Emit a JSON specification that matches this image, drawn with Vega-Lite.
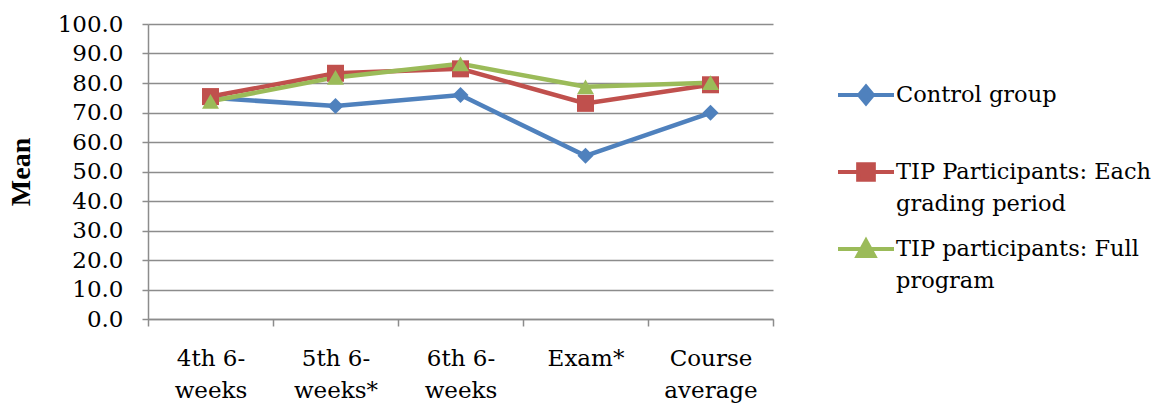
{
  "$schema": "https://vega.github.io/schema/vega-lite/v6.json",
  "autosize": {"type": "none"},
  "width": 625,
  "height": 295,
  "padding": {"left": 148, "top": 24, "right": 388, "bottom": 88},
  "background": "white",
  "config": {
    "view": {"stroke": null}
  },
  "data": {
    "values": [
      {"period": "4th 6-weeks", "group": "Control group", "mean": 75.0},
      {"period": "5th 6-weeks*", "group": "Control group", "mean": 72.2},
      {"period": "6th 6-weeks", "group": "Control group", "mean": 75.9},
      {"period": "Exam*", "group": "Control group", "mean": 55.3},
      {"period": "Course average", "group": "Control group", "mean": 69.9},
      {"period": "4th 6-weeks", "group": "TIP Participants: Each grading period", "mean": 75.4},
      {"period": "5th 6-weeks*", "group": "TIP Participants: Each grading period", "mean": 83.3},
      {"period": "6th 6-weeks", "group": "TIP Participants: Each grading period", "mean": 84.8},
      {"period": "Exam*", "group": "TIP Participants: Each grading period", "mean": 73.1},
      {"period": "Course average", "group": "TIP Participants: Each grading period", "mean": 79.4},
      {"period": "4th 6-weeks", "group": "TIP participants: Full program", "mean": 73.8},
      {"period": "5th 6-weeks*", "group": "TIP participants: Full program", "mean": 81.9},
      {"period": "6th 6-weeks", "group": "TIP participants: Full program", "mean": 86.5},
      {"period": "Exam*", "group": "TIP participants: Full program", "mean": 78.7},
      {"period": "Course average", "group": "TIP participants: Full program", "mean": 80.1}
    ]
  },
  "encoding": {
    "x": {
      "field": "period",
      "type": "nominal",
      "sort": ["4th 6-weeks", "5th 6-weeks*", "6th 6-weeks", "Exam*", "Course average"],
      "scale": {"type": "band", "paddingInner": 0, "paddingOuter": 0},
      "bandPosition": 0.5,
      "axis": {
        "title": null,
        "labelAngle": 0,
        "labelFont": "DejaVu Serif",
        "labelFontSize": 23,
        "labelColor": "black",
        "labelLineHeight": 32,
        "labelPadding": 21,
        "labelBaseline": "top",
        "labelExpr": "datum.value == '4th 6-weeks' ? ['4th 6-', 'weeks'] : datum.value == '5th 6-weeks*' ? ['5th 6-', 'weeks*'] : datum.value == '6th 6-weeks' ? ['6th 6-', 'weeks'] : datum.value == 'Course average' ? ['Course', 'average'] : datum.value",
        "tickBand": "extent",
        "tickSize": 7,
        "tickColor": "#8c8c8c",
        "tickWidth": 1.5,
        "domainColor": "#8c8c8c",
        "domainWidth": 1.5,
        "grid": false
      }
    },
    "y": {
      "field": "mean",
      "type": "quantitative",
      "scale": {"domain": [0, 100], "nice": false},
      "axis": {
        "title": "Mean",
        "titleFont": "Liberation Serif",
        "titleFontSize": 28,
        "titleFontWeight": "bold",
        "titleColor": "black",
        "titlePadding": 22,
        "values": [0, 10, 20, 30, 40, 50, 60, 70, 80, 90, 100],
        "format": ".1f",
        "labelFont": "DejaVu Serif",
        "labelFontSize": 23,
        "labelColor": "black",
        "labelPadding": 19,
        "tickSize": 6,
        "tickColor": "#8c8c8c",
        "tickWidth": 1.5,
        "domainColor": "#8c8c8c",
        "domainWidth": 1.5,
        "grid": true,
        "gridColor": "#8c8c8c",
        "gridWidth": 1.5
      }
    },
    "color": {
      "field": "group",
      "type": "nominal",
      "scale": {
        "domain": ["Control group", "TIP Participants: Each grading period", "TIP participants: Full program"],
        "range": ["#4F81BD", "#C0504D", "#9BBB59"]
      },
      "legend": {
        "title": null,
        "orient": "none",
        "legendX": 688,
        "legendY": 41,
        "symbolSize": 3136,
        "symbolStrokeWidth": 4,
        "labelFont": "DejaVu Serif",
        "labelFontSize": 22.5,
        "labelColor": "black",
        "labelOffset": 0,
        "labelLimit": 400,
        "rowPadding": 3,
        "labelExpr": "datum.value == 'TIP Participants: Each grading period' ? ['TIP Participants: Each', 'grading period'] : datum.value == 'TIP participants: Full program' ? ['TIP participants: Full', 'program'] : ['Control group', ' ']",
        "encode": {
          "symbols": {
            "update": {
              "shape": {"signal": "datum.value == 'Control group' ? 'M-1,0L1,0M0,-0.3L0.25,0L0,0.3L-0.25,0Z' : datum.value == 'TIP Participants: Each grading period' ? 'M-1,0L1,0M-0.28,-0.28L0.28,-0.28L0.28,0.28L-0.28,0.28Z' : 'M-1,0L1,0M0,-0.3L0.3,0.25L-0.3,0.25Z'"},
              "fill": {"scale": "color", "field": "value"},
              "stroke": {"scale": "color", "field": "value"},
              "strokeWidth": {"value": 4}
            }
          },
          "labels": {
            "update": {
              "lineHeight": {"value": 32}
            }
          }
        }
      }
    }
  },
  "layer": [
    {
      "mark": {"type": "line", "strokeWidth": 4.5}
    },
    {
      "transform": [{"filter": "datum.group == 'Control group'"}],
      "mark": {"type": "point", "filled": true, "opacity": 1, "size": 256, "shape": "diamond"}
    },
    {
      "transform": [{"filter": "datum.group == 'TIP Participants: Each grading period'"}],
      "mark": {"type": "point", "filled": true, "opacity": 1, "size": 289, "shape": "square"}
    },
    {
      "transform": [{"filter": "datum.group == 'TIP participants: Full program'"}],
      "mark": {"type": "point", "filled": true, "opacity": 1, "size": 289, "shape": "triangle-up"}
    }
  ]
}
